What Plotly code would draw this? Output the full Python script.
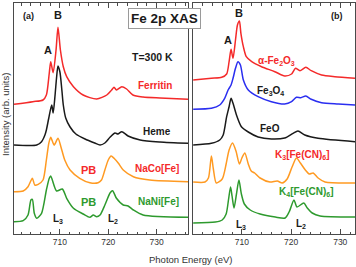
import plotly.graph_objects as go

# ---------------- data (stacked intensities, arb. units) ----------------
# Panel (a)
ferritin_e = [700.5, 704.4, 706.5, 707.2, 707.8, 708.1, 708.6, 709.2, 709.6, 710.1, 710.7, 711.4,
              712.8, 714.8, 717.6, 719.7, 720.7, 721.2, 721.7, 722.8, 723.8, 725.1, 727.2, 730.7, 736.5]
ferritin_i = [129.7, 132.3, 134, 139, 161, 172.3, 161.3, 184, 206.7, 184, 167.3, 157.3,
              147.3, 139, 135, 139, 144, 146.7, 144, 147.3, 145, 139, 137, 136, 134.7]

heme_e = [700.5, 705.2, 706.2, 706.9, 707.2, 707.7, 708.3, 708.6, 709.0, 709.3, 709.6, 710.0, 710.4,
          710.7, 711.2, 712.1, 713.3, 715.2, 717.2, 718.3, 719.3, 720.4, 721.4, 722.0, 722.8, 724.1,
          726.6, 730.7, 736.5]
heme_i = [89, 89, 92.3, 99, 104, 116, 129, 121, 139, 156, 168, 162, 144,
          129, 116, 107, 100, 95, 91, 89, 91, 97, 101, 100, 102.3, 98,
          94, 92, 90.7]

naco_e = [700.5, 702.4, 703.4, 704.3, 704.8, 705.5, 706.5, 707.2, 707.7, 708.1, 708.8, 709.6, 710.2,
          711.0, 712.1, 714.1, 716.2, 717.9, 718.6, 719.3, 720.0, 720.6, 721.2, 722.1, 723.1, 725.2,
          728.6, 736.5]
naco_i = [42.3, 43, 47.3, 55.7, 49, 49.7, 54, 74, 90.7, 96.7, 89, 95.7, 87.3,
          74, 64, 55.7, 51.3, 51.3, 54, 64, 74, 78, 75.7, 70.7, 64, 57.3,
          54, 52.3]

nani_e = [700.5, 702.4, 703.4, 704.0, 704.3, 704.7, 705.2, 706.2, 707.2, 707.8, 708.1, 709.3, 710.5,
          711.4, 712.8, 714.8, 716.2, 716.9, 717.6, 718.3, 719.3, 720.4, 720.9, 721.7, 723.1, 724.1,
          725.2, 727.2, 736.5]
nani_i = [12.3, 13.3, 19, 34, 34.7, 20.7, 15.7, 20.7, 44, 55.7, 58, 43, 45,
          35.7, 25.7, 20, 16.7, 19, 17.3, 19, 29, 41.3, 43.3, 35.7, 29, 28,
          24, 19, 16.7]

# Panel (b)
fe2o3_e = [700.1, 703.8, 705.9, 706.9, 707.4, 707.8, 708.2, 708.7, 709.1, 709.5, 709.8, 710.3, 710.9,
           712.0, 714.0, 716.7, 718.7, 720.1, 720.9, 721.8, 723.0, 724.1, 726.2, 728.9, 733.0]
fe2o3_i = [154, 155.7, 156.7, 160, 172.3, 184.7, 175.7, 194, 209, 213, 200.7, 187.3, 177.3,
           172.3, 167.3, 162.3, 158, 160, 165.7, 163.3, 166.7, 163.3, 159, 157.3, 155.7]

fe3o4_e = [700.1, 703.8, 705.5, 706.5, 707.2, 707.8, 708.2, 708.7, 709.2, 709.7, 710.3, 711.3, 713.3,
           716.0, 718.7, 720.1, 721.1, 722.0, 723.0, 724.1, 726.2, 729.6, 733.0]
fe3o4_i = [124.7, 125.7, 129, 135.7, 144, 149, 155.7, 165.7, 172.3, 169, 154, 144, 137.3,
           132.3, 130, 132.3, 136.7, 136.3, 138, 134.7, 131.3, 130, 129]

feo_e = [700.1, 703.8, 705.5, 706.2, 706.9, 707.4, 707.8, 708.2, 708.9, 709.9, 711.3, 713.3,
         716.0, 718.7, 720.4, 721.4, 722.8, 725.5, 733.0]
feo_i = [89, 90.7, 94, 99, 117.3, 127.3, 135.7, 130.7, 119, 107.3, 102, 97,
         95, 96, 100.7, 103, 99, 95.7, 92.3]

k3_e = [700.1, 702.5, 703.2, 703.8, 704.2, 704.8, 706.0, 706.8, 707.4, 708.1, 708.8, 709.5, 710.0,
        710.6, 711.3, 711.9, 712.6, 713.7, 715.7, 717.2, 718.2, 719.2, 720.2, 721.1, 721.9, 722.9,
        723.7, 724.5, 725.5, 726.9, 733.0]
k3_i = [52, 52, 56, 78, 65, 51, 55, 70, 84, 91, 83, 70, 76,
        81, 70, 63, 61, 56, 52, 53, 51, 55, 67, 76, 71, 64,
        60, 61, 56, 52, 51]

k4_e = [700.1, 704.6, 706.0, 706.8, 707.3, 707.7, 708.0, 708.4, 708.9, 709.4, 709.9, 710.5, 711.7,
        713.7, 716.8, 718.8, 719.6, 720.6, 721.2, 722.6, 723.3, 724.3, 725.9, 733.0]
k4_i = [11, 12, 14, 20, 35, 47, 38, 26, 40, 54, 40, 30, 24,
        20, 17, 16, 22, 34, 27, 31, 26, 21, 18, 17]

tick_vals = [710, 720, 730]
tick_text = ["710", "720", "730"]

RED = "#f42a2a"
BLACK = "#1a1a1a"
BLUE = "#2a2ef0"
ORANGE = "#ff9a22"
GREEN = "#2e9a2e"

W, H = 356, 267
fig = go.Figure()

series_a = [(ferritin_e, ferritin_i, RED), (heme_e, heme_i, BLACK),
            (naco_e, naco_i, ORANGE), (nani_e, nani_i, GREEN)]
series_b = [(fe2o3_e, fe2o3_i, RED), (fe3o4_e, fe3o4_i, BLUE), (feo_e, feo_i, BLACK),
            (k3_e, k3_i, ORANGE), (k4_e, k4_i, GREEN)]

for xs, ys, c in series_a:
    fig.add_trace(go.Scatter(x=xs, y=ys, mode="lines", line=dict(color=c, width=1.5, shape="spline", smoothing=0.7),
                             xaxis="x", yaxis="y", showlegend=False, hoverinfo="skip"))
for xs, ys, c in series_b:
    fig.add_trace(go.Scatter(x=xs, y=ys, mode="lines", line=dict(color=c, width=1.5, shape="spline", smoothing=0.7),
                             xaxis="x2", yaxis="y2", showlegend=False, hoverinfo="skip"))

FONT = "Liberation Sans, Arial, sans-serif"
AX = "#4a4a4a"

def xax(domain, rng, anchor):
    return dict(domain=domain, range=rng, anchor=anchor, tickvals=tick_vals, ticktext=tick_text,
                ticks="inside", ticklen=5, tickwidth=1, tickcolor=AX, mirror="ticks",
                showline=True, linecolor=AX, linewidth=1, showgrid=False, zeroline=False,
                tickfont=dict(family=FONT, size=8.5, color="#333"),
                minor=dict(dtick=2, tick0=700, ticks="inside", ticklen=2.5, tickcolor=AX, showgrid=False))

def yax(domain, anchor):
    return dict(domain=domain, range=[0, 231], anchor=anchor, showticklabels=False, ticks="",
                showline=True, mirror=True, linecolor=AX, linewidth=1, showgrid=False, zeroline=False)

ydom = [1 - 234 / H, 1 - 3 / H]
fig.update_layout(
    width=W, height=H, margin=dict(l=0, r=0, t=0, b=0),
    paper_bgcolor="white", plot_bgcolor="white",
    xaxis=xax([14 / W, 188 / W], [700.5, 736.5], "y"),
    yaxis=yax(ydom, "x"),
    xaxis2=xax([192.7 / W, 355 / W], [700.0, 733.0], "y2"),
    yaxis2=yax(ydom, "x2"),
)

def px(x, y):
    return x / W, 1 - y / H

def label(text, x, y, color=BLACK, size=10, bold=True, **kw):
    X, Y = px(x, y)
    t = f"<b>{text}</b>" if bold else text
    fig.add_annotation(x=X, y=Y, xref="paper", yref="paper", text=t, showarrow=False,
                       font=dict(family=FONT, size=size, color=color), xanchor="center", yanchor="middle", **kw)

# panel (a) labels
label("(a)", 28, 16, size=9)
label("B", 58, 15, size=11)
label("A", 48, 50, size=11)
label("T=300 K", 152, 57, size=10.5)
label("Ferritin", 155, 85, color=RED, size=10)
label("Heme", 157, 131, size=10)
label("PB", 88, 170, color=RED, size=11)
label("NaCo[Fe]", 157, 168, color=RED, size=10)
label("PB", 88, 202, color=GREEN, size=11)
label("NaNi[Fe]", 158, 201, color=GREEN, size=10)
label("L<sub>3</sub>", 58, 219, size=10)
label("L<sub>2</sub>", 113, 219, size=10)

# panel (b) labels
label("(b)", 337, 16, size=9)
label("B", 239, 13, size=11)
label("A", 228, 40, size=11)
label("α-Fe<sub>2</sub>O<sub>3</sub>", 276, 61, color=RED, size=10)
label("Fe<sub>3</sub>O<sub>4</sub>", 270, 91, size=10)
label("FeO", 270, 128, size=10)
label("K<sub>3</sub>[Fe(CN)<sub>6</sub>]", 302, 155, color=RED, size=10)
label("K<sub>4</sub>[Fe(CN)<sub>6</sub>]", 306, 192, color=GREEN, size=10)
label("L<sub>3</sub>", 241, 225, size=10)
label("L<sub>2</sub>", 301, 224, size=10)

# title box
X, Y = px(164, 18.5)
fig.add_annotation(x=X, y=Y, xref="paper", yref="paper", text="<b>Fe 2p XAS</b>", showarrow=False,
                   font=dict(family=FONT, size=13.5, color=BLACK), bgcolor="white",
                   bordercolor="#9a9a9a", borderwidth=1, borderpad=2, xanchor="center", yanchor="middle")

# axis titles
X, Y = px(190, 259)
fig.add_annotation(x=X, y=Y, xref="paper", yref="paper", text="Photon Energy (eV)", showarrow=False,
                   font=dict(family=FONT, size=9.5, color="#333"), xanchor="center", yanchor="middle")
X, Y = px(6, 115)
fig.add_annotation(x=X, y=Y, xref="paper", yref="paper", text="Intensity (arb. units)", showarrow=False,
                   textangle=-90, font=dict(family=FONT, size=9.5, color="#333"), xanchor="center", yanchor="middle")

fig.write_html("out.html")
